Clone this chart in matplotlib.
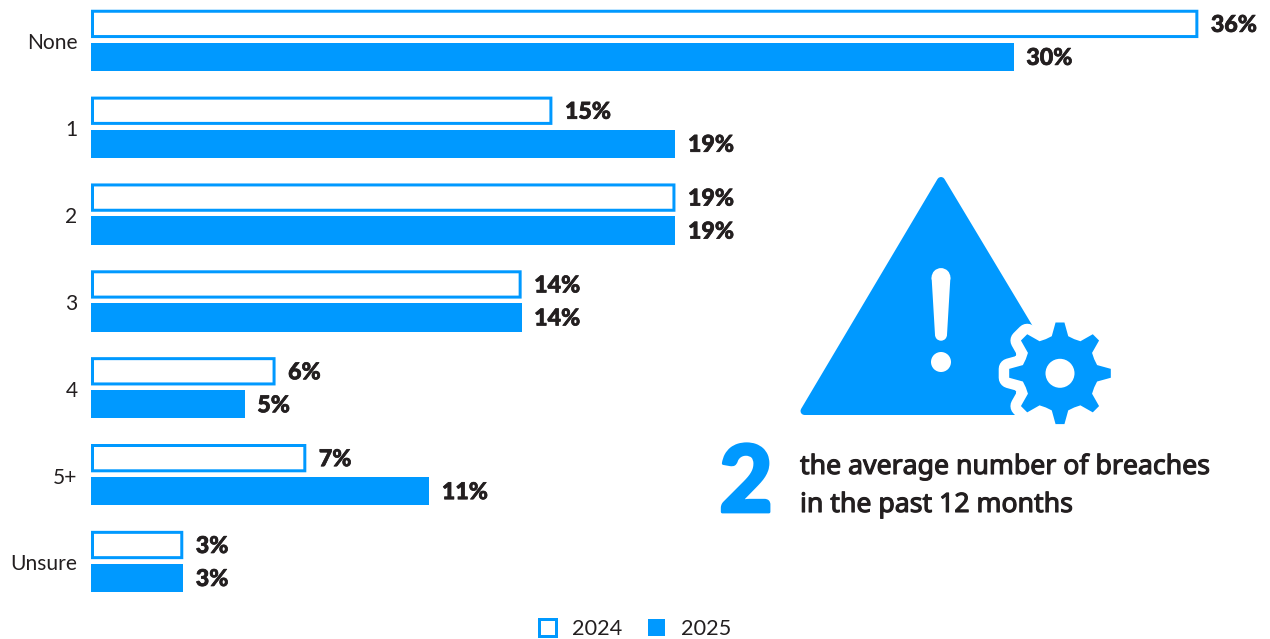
"""Breaches in the past 12 months, 2024 vs 2025, with the average-count callout."""

import numpy as np
import matplotlib
matplotlib.use("Agg")
import matplotlib.pyplot as plt
import matplotlib.patheffects as pe
from matplotlib.patches import Circle, Polygon

CATEGORIES = ["None", "1", "2", "3", "4", "5+", "Unsure"]
VALUES_2024 = [36, 15, 19, 14, 6, 7, 3]
VALUES_2025 = [30, 19, 19, 14, 5, 11, 3]
SERIES_NAMES = ["2024", "2025"]
CALLOUT_NUMBER = "2"
CALLOUT_LINES = ["the average number of breaches", "in the past 12 months"]

BLUE = "#0099ff"
INK = "#231f20"
WIDTH, HEIGHT = 1270, 639
DPI = 100

# chart geometry, in pixels
ZERO_X = 91
PX_PER_PCT = 30.76
FIRST_ROW_Y = 40.4
ROW_STEP = 86.85
EDGE_PX = 3


def px_to_pt(px):
    return px * 72 / DPI


def heavier(color, width):
    # thickens the installed weight without changing its advance widths
    return [pe.withStroke(linewidth=width, foreground=color)]


def draw_bars(ax):
    rows = np.arange(len(CATEGORIES))
    offset = 16.5 / ROW_STEP
    fill_h = 28.3 / ROW_STEP
    outline_h = (28.3 - EDGE_PX) / ROW_STEP
    # the stroke straddles the bar edge, so pull it in to keep the outer edge on the value
    inset = (EDGE_PX / 2) / PX_PER_PCT

    outlined = ax.barh(rows - offset, np.array(VALUES_2024) - 2 * inset, left=inset,
                       height=outline_h, facecolor="white", edgecolor=BLUE,
                       linewidth=px_to_pt(EDGE_PX), label=SERIES_NAMES[0])
    for bar in outlined:
        bar.set_snap(False)
    ax.barh(rows + offset, VALUES_2025, height=fill_h, color=BLUE,
            linewidth=0, label=SERIES_NAMES[1])

    pad = 12.5 / PX_PER_PCT
    nudge = -0.5 / ROW_STEP
    for row, v24, v25 in zip(rows, VALUES_2024, VALUES_2025):
        for y, v in ((row - offset, v24), (row + offset, v25)):
            ax.text(v + pad, y + nudge, f"{v}%", va="center_baseline", ha="left",
                    fontsize=16.7, fontweight="black", family="Lato", color=INK,
                    path_effects=heavier(INK, 0.5))
        ax.text(-13.5 / PX_PER_PCT, row + 1 / ROW_STEP, CATEGORIES[row],
                va="center_baseline", ha="right", fontsize=15.1, family="Lato",
                color=INK)


def gear_outline(cx, cy, tip_r=51, root_r=37):
    pts = []
    for k in range(8):
        a = np.deg2rad(45 * k)
        for r, da in ((root_r + 1, -12.5), (tip_r, -5), (tip_r, 5), (root_r + 1, 12.5),
                      (root_r, 22.5)):
            t = a + np.deg2rad(da)
            pts.append((cx + r * np.cos(t), cy + r * np.sin(t)))
    return pts


def draw_icon(ov):
    # warning triangle, rounded through a thick round-joined stroke
    ov.add_patch(Polygon([(941, 181), (804.5, 411), (1079, 411)], closed=True,
                         facecolor=BLUE, edgecolor=BLUE, linewidth=px_to_pt(8),
                         joinstyle="round"))
    # exclamation mark
    ov.add_patch(Polygon([(931.6, 277.5), (950.4, 277.5), (947, 334.7), (935, 334.7)],
                         closed=True, facecolor="white", linewidth=0))
    ov.add_patch(Circle((941, 277.5), 9.4, facecolor="white", linewidth=0))
    ov.add_patch(Circle((941, 334.7), 6, facecolor="white", linewidth=0))
    ov.add_patch(Circle((941, 362), 10, facecolor="white", linewidth=0))

    # gear with a white halo cutting into the triangle
    gear = gear_outline(1060, 373.3)
    ov.add_patch(Polygon(gear, closed=True, facecolor="white", edgecolor="white",
                         linewidth=px_to_pt(21), joinstyle="round"))
    ov.add_patch(Polygon(gear, closed=True, facecolor=BLUE, linewidth=0))
    ov.add_patch(Circle((1060, 373.3), 14.5, facecolor="white", linewidth=0))


def draw_callout(ov):
    ov.text(746, 512, CALLOUT_NUMBER, ha="center", va="baseline", color=BLUE,
            family="Lato", fontweight="black", fontsize=67,
            path_effects=heavier(BLUE, 2))
    for y, line in zip((474, 512), CALLOUT_LINES):
        ov.text(800, y, line, ha="left", va="baseline", color=INK,
                family="Noto Sans", fontweight="bold", fontsize=19.2,
                path_effects=heavier(INK, 0.8))


def main():
    fig = plt.figure(figsize=(WIDTH / DPI, HEIGHT / DPI), dpi=DPI, facecolor="white")

    ax = fig.add_axes([0, 0, 1, 1])
    ax.set_xlim(-ZERO_X / PX_PER_PCT, (WIDTH - ZERO_X) / PX_PER_PCT)
    ax.set_ylim((HEIGHT - FIRST_ROW_Y) / ROW_STEP, -FIRST_ROW_Y / ROW_STEP)
    ax.axis("off")
    draw_bars(ax)

    ov = fig.add_axes([0, 0, 1, 1], zorder=2)
    ov.set_xlim(0, WIDTH)
    ov.set_ylim(HEIGHT, 0)
    ov.axis("off")
    ov.patch.set_alpha(0)
    draw_icon(ov)
    draw_callout(ov)

    handles, labels = ax.get_legend_handles_labels()
    fig.legend(handles, labels, loc="center", bbox_to_anchor=(635 / WIDTH, 1 - 629 / HEIGHT),
               ncol=2, frameon=False, prop={"family": "Lato", "size": 15.6},
               labelcolor=INK, handlelength=0.8, handleheight=0.8,
               handletextpad=0.72, columnspacing=1.2)

    fig.savefig("out.png", dpi=DPI)
    plt.close(fig)


if __name__ == "__main__":
    main()
